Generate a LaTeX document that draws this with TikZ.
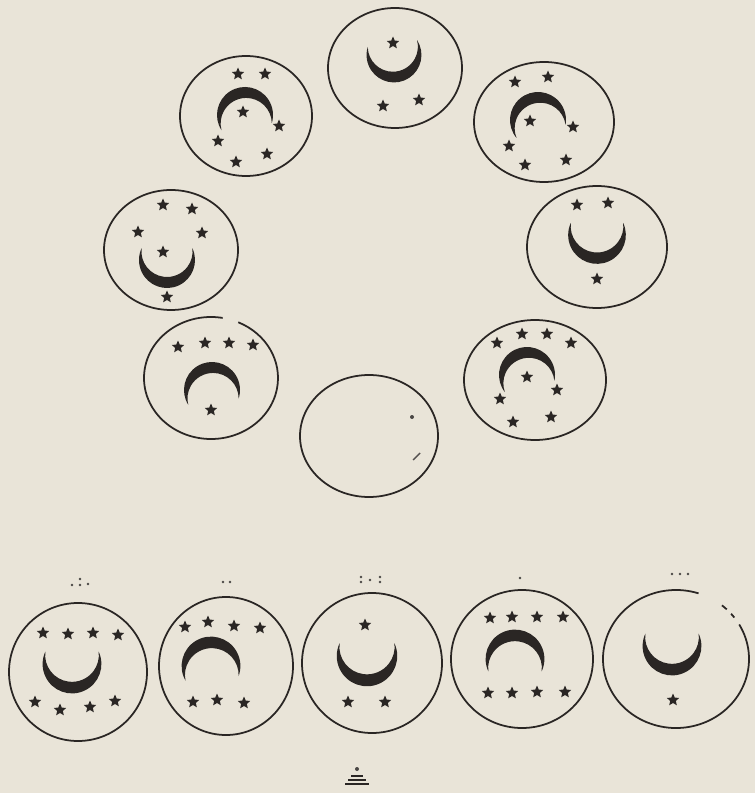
\documentclass[tikz,border=0pt]{standalone}
\usepackage{xcolor}
\usetikzlibrary{calc}
\definecolor{paper}{RGB}{233,228,216}
\definecolor{ink}{RGB}{42,38,36}

\begin{document}
\begin{tikzpicture}[
    x=0.02cm, y=0.02cm,
    disc/.style={draw=ink, line width=1pt},
    speck/.style={fill=ink!85},
    pics/moon/.style={code={
        \fill[ink] (25:28) arc[start angle=25, end angle=-205, radius=28]
            arc[start angle=172.72, end angle=367.28, radius=25.586] -- cycle;
    }},
    pics/starlet/.style={code={
        \fill[ink] (90:6.5) \foreach \k in {1,...,9} {-- ({90+36*\k}:{4.75+1.75*cos(180*\k)})} -- cycle;
    }},
]
% paper, fixes the bounding box (pixel units, y downwards negative)
\fill[paper] (0,0) rectangle (755,-793);

% ring of discs round the empty one
\foreach \x/\y/\a/\b in {395/68/67/60, 246/116/66/60, 544/122/70/60,
    171/250/67/60, 597/247/70/61, 535/380/71/60, 369/436/69/61}
    \draw[disc] (\x,-\y) ellipse[x radius=\a, y radius=\b];
% lower left disc, line broken at the top
\draw[disc] ($(211,-378)+(80:67 and 61)$) arc[start angle=80, end angle=426, x radius=67, y radius=61];

% bottom row
\foreach \x/\y/\a/\b in {78/672/69/69, 226/666/67/69, 372/663/70/70, 522/659/71/69}
    \draw[disc] (\x,-\y) ellipse[x radius=\a, y radius=\b];
% last disc, broken at the upper right
\draw[disc] ($(676,-659)+(72:73 and 69)$) arc[start angle=72, end angle=390, x radius=73, y radius=69];
\draw[disc] ($(676,-659)+(46:73 and 69)$) arc[start angle=46, end angle=51, x radius=73, y radius=69];
\draw[disc] ($(676,-659)+(37:73 and 69)$) arc[start angle=37, end angle=41, x radius=73, y radius=69];

% crescents: x/y/rotation/scale (0 = horns up, 180 = horns down)
\foreach \x/\y/\r/\s in {394/55/8/0.98, 245/115/188/1, 538/120/195/1,
    167/260/0/1, 597/235/0/1.03, 212/390/187/1, 527/375/193/1,
    72/664/0/1.05, 211/666/185/1.05, 367/656/0/1.08, 515/659/180/1.05, 672/646/0/1.05}
    \pic[rotate=\r, scale=\s] at (\x,-\y) {moon};

% stars, ring
\foreach \x/\y in {393/43, 383/106, 419/100,
    238/74, 265/74, 243/112, 279/126, 218/141, 267/154, 236/162,
    515/82, 548/77, 530/121, 573/127, 509/146, 525/165, 566/160,
    163/205, 192/209, 138/232, 202/233, 163/252, 167/297,
    577/205, 608/203, 597/279,
    178/347, 205/343, 229/343, 253/345, 211/410,
    497/343, 522/334, 547/334, 571/343, 527/377, 557/390, 500/399, 513/422, 551/417}
    \pic at (\x,-\y) {starlet};
% stars, bottom row
\foreach \x/\y in {43/633, 68/634, 93/633, 118/635, 35/702, 60/710, 90/707, 115/701,
    185/627, 208/622, 234/626, 260/628, 193/702, 217/700, 244/703,
    365/625, 348/702, 385/702,
    490/618, 512/617, 537/617, 563/617, 488/693, 512/693, 537/692, 565/692,
    673/700}
    \pic at (\x,-\y) {starlet};

% marks inside the empty disc
\fill[speck] (412,-417) circle (2);
\draw[ink!80, line width=0.8pt] (413,-460) -- (420,-453);

% dots over the bottom discs
\foreach \x/\y in {80/579, 72/585, 80/585, 88/584,
    223/582, 230/582,
    361/577, 361/582, 370/580, 380/577, 380/582,
    520/578,
    672/574, 680/574, 688/574}
    \fill[speck] (\x,-\y) circle (1.4);

% small sign under the row
\fill[speck] (357,-769) circle (2);
\draw[ink, line width=1pt] (351,-776) -- (363,-776);
\draw[ink, line width=1pt] (348,-780) -- (366,-780);
\draw[ink, line width=1pt] (345,-784) -- (369,-784);
\end{tikzpicture}
\end{document}
